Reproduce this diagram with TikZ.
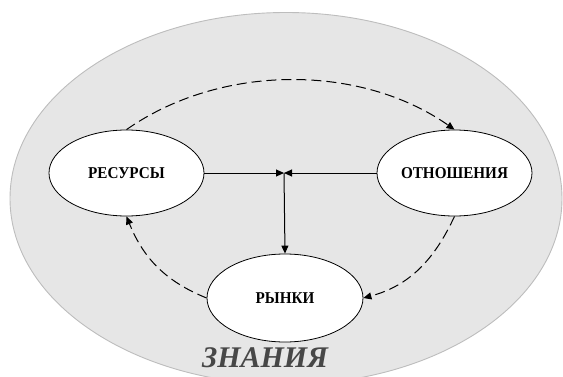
\documentclass[tikz,border=0pt]{standalone}
\usepackage{fontspec}
\setmainfont{Liberation Serif}
\newfontfamily\lblfont[FakeStretch=0.92]{Liberation Serif}
\usetikzlibrary{shapes.geometric,arrows.meta}
\definecolor{fieldgray}{HTML}{E6E6E6}
\definecolor{fieldedge}{HTML}{BDBDBD}
\definecolor{titlegray}{HTML}{474747}
\begin{document}
\begin{tikzpicture}[x=1pt,y=1pt,
  concept/.style={ellipse,draw=black,line width=0.8pt,fill=white,inner sep=0pt,
    minimum width=155pt,minimum height=86pt,
    font=\lblfont\bfseries\fontsize{16.5}{16.5}\selectfont},
  link/.style={line width=1pt,-{Triangle[length=8pt,width=7pt]}},
  loop/.style={link,dash pattern=on 10pt off 5pt}]
  \useasboundingbox (0,0) rectangle (563,376);
  \clip (0,0) rectangle (563,376);
  % knowledge field
  \fill[fieldgray,draw=fieldedge,line width=0.9pt] (286,177.5) ellipse [x radius=276,y radius=186];
  \node[font=\bfseries\itshape\fontsize{30}{30}\selectfont,text=titlegray,anchor=base] (zn) at (265,9) {ЗНАНИЯ};
  % concepts
  \node[concept] (res) at (126.5,203) {РЕСУРСЫ};
  \node[concept] (otn) at (454.5,203) {ОТНОШЕНИЯ};
  \node[concept,minimum width=156pt,minimum height=88pt] (ryn) at (285,78) {РЫНКИ};
  \coordinate (j) at (284,203);
  % solid links
  \draw[link] (res.east) -- (j);
  \draw[link] (otn.west) -- (j);
  \draw[link] (j) -- (ryn.north);
  % dashed cycle
  \draw[loop] (res.north) to[out=35,in=145,looseness=0.9] (otn.north);
  \draw[loop] (otn.south) to[out=-115,in=15] (ryn.east);
  \draw[loop] (ryn.west) to[out=158,in=-68] (res.south);
\end{tikzpicture}
\end{document}
